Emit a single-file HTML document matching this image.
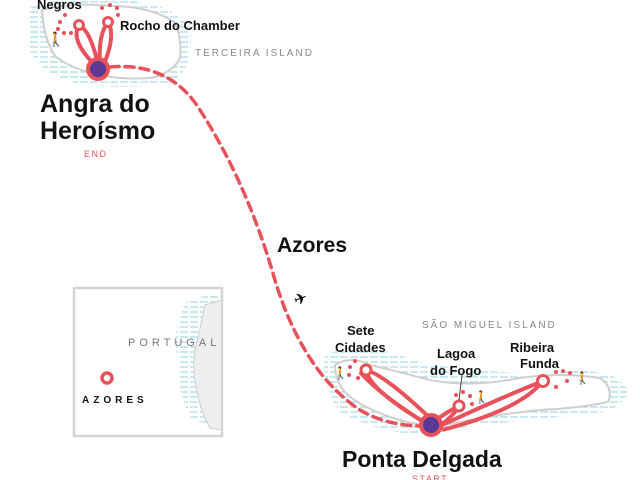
<!DOCTYPE html>
<html><head><meta charset="utf-8"><style>
html,body{margin:0;padding:0;background:#fff;}
svg{display:block;}
text{font-family:"Liberation Sans",sans-serif;}
</style></head><body>
<svg width="640" height="480" viewBox="0 0 640 480" xmlns="http://www.w3.org/2000/svg">
<defs>
<pattern id="h" width="10" height="5" patternUnits="userSpaceOnUse">
<line x1="0" y1="2" x2="8" y2="2" stroke="#a9dde7" stroke-width="1.3"/>
</pattern>
<clipPath id="ib"><rect x="75" y="289" width="146" height="146"/></clipPath>
</defs>
<!-- Terceira water -->
<path d="M28 8 Q60 -4 110 0 Q175 0 190 30 Q195 65 172 84 Q120 90 80 84 Q36 74 28 45 Z" fill="url(#h)"/>
<path d="M42 10 Q70 2 110 6 Q150 6 174 22 Q182 35 180 58 Q172 74 150 78 Q120 80 95 74 Q70 68 55 56 Q44 40 42 10 Z" fill="#fff" stroke="#cfcfcf" stroke-width="2"/>
<!-- Sao Miguel water -->
<path d="M325 355 Q360 340 420 362 Q480 375 560 372 Q615 366 628 390 Q625 410 590 414 Q520 420 460 428 Q400 445 340 412 Q320 385 325 355 Z" fill="url(#h)"/>
<path d="M335 365 Q350 355 370 365 Q400 372 430 380 Q470 388 520 378 Q560 372 600 378 Q614 388 608 402 Q580 408 540 410 Q500 414 470 420 Q430 430 400 420 Q360 408 345 392 Q335 380 335 365 Z" fill="#fff" stroke="#cfcfcf" stroke-width="2"/>
<!-- dashed route -->
<path d="M110 67 Q170 62 200 110 Q245 180 272 270 Q300 370 360 410 Q385 425 420 426" fill="none" stroke="#e8525a" stroke-width="3.5" stroke-dasharray="9 6" stroke-linecap="round"/>
<!-- Terceira loops -->
<g fill="none" stroke="#e8525a" stroke-width="4">
<path d="M94 64 Q70 40 79 25 Q90 30 98 64"/>
<path d="M100 64 Q98 35 108 22 Q116 35 104 64"/>
</g>
<g fill="#e8525a">
<circle cx="60" cy="22" r="2"/><circle cx="65" cy="15" r="2"/><circle cx="58" cy="29" r="2"/><circle cx="64" cy="33" r="2"/><circle cx="71" cy="33" r="2"/>
<circle cx="102" cy="8" r="2"/><circle cx="110" cy="5" r="2"/><circle cx="117" cy="8" r="2"/><circle cx="118" cy="15" r="2"/>
</g>
<circle cx="79" cy="25" r="4.5" fill="#fff" stroke="#e8525a" stroke-width="3"/>
<circle cx="108" cy="22" r="4.5" fill="#fff" stroke="#e8525a" stroke-width="3"/>
<circle cx="98" cy="69" r="10" fill="#5b3a96" stroke="#e8525a" stroke-width="4"/>
<text x="47" y="44" font-size="14">🚶</text>
<!-- Sao Miguel loops -->
<g fill="none" stroke="#e8525a" stroke-width="4">
<path d="M424 422 Q370 390 366 370 Q385 375 432 420"/>
<path d="M430 426 Q380 395 360 372"/>
<path d="M436 420 Q450 410 459 406 Q455 414 440 426"/>
<path d="M440 426 Q500 398 543 381 Q520 410 442 430"/>
</g>
<g fill="#e8525a">
<circle cx="350" cy="367" r="2"/><circle cx="355" cy="361" r="2"/><circle cx="349" cy="375" r="2"/><circle cx="358" cy="378" r="2"/>
<circle cx="456" cy="395" r="2"/><circle cx="463" cy="392" r="2"/><circle cx="470" cy="396" r="2"/><circle cx="472" cy="404" r="2"/>
<circle cx="556" cy="372" r="2"/><circle cx="563" cy="371" r="2"/><circle cx="570" cy="373" r="2"/><circle cx="567" cy="381" r="2"/><circle cx="556" cy="387" r="2"/>
</g>
<circle cx="366" cy="370" r="5" fill="#fff" stroke="#e8525a" stroke-width="3"/>
<circle cx="459" cy="406" r="5" fill="#fff" stroke="#e8525a" stroke-width="3"/>
<circle cx="543" cy="381" r="5.5" fill="#fff" stroke="#e8525a" stroke-width="3"/>
<circle cx="431" cy="425" r="10" fill="#5b3a96" stroke="#e8525a" stroke-width="4"/>
<line x1="462" y1="375" x2="459" y2="400" stroke="#444" stroke-width="1"/>
<g font-size="12"><text x="333" y="377">🚶</text><text x="474" y="401">🚶</text><text x="575" y="382">🚶</text></g>
<text x="294" y="304" font-size="16" transform="rotate(-20 301 299)">✈</text>
<!-- labels -->
<g font-weight="bold" fill="#111">
<text x="37" y="9" font-size="13">Negros</text>
<text x="120" y="30" font-size="13">Rocho do Chamber</text>
<text x="40" y="112" font-size="25">Angra do</text>
<text x="40" y="139" font-size="25">Heroísmo</text>
<text x="277" y="252" font-size="21">Azores</text>
<text x="347" y="335" font-size="13">Sete</text>
<text x="335" y="352" font-size="13">Cidades</text>
<text x="437" y="358" font-size="13">Lagoa</text>
<text x="430" y="375" font-size="13">do Fogo</text>
<text x="510" y="352" font-size="13">Ribeira</text>
<text x="520" y="368" font-size="13">Funda</text>
<text x="342" y="467" font-size="23">Ponta Delgada</text>
</g>
<text x="84" y="157" font-size="9" fill="#e8525a" letter-spacing="1.5">END</text>
<text x="412" y="482" font-size="9" fill="#e8525a" letter-spacing="1.5">START</text>
<text x="195" y="56" font-size="10" fill="#888" letter-spacing="2">TERCEIRA ISLAND</text>
<text x="422" y="328" font-size="10" fill="#888" letter-spacing="2">SÃO MIGUEL ISLAND</text>
<!-- inset -->
<rect x="74" y="288" width="148" height="148" fill="#fff" stroke="#d4d4d4" stroke-width="2.5"/>
<g clip-path="url(#ib)">
<path d="M188 300 Q170 330 178 360 Q176 390 192 420 L230 430 L230 290 Z" fill="url(#h)"/>
<path d="M205 305 L222 300 L222 430 L210 428 Q200 412 196 385 Q192 370 195 350 Q200 330 205 305 Z" fill="#eeeeee" stroke="#cfcfcf" stroke-width="1"/>
</g>
<text x="128" y="346" font-size="11" fill="#777" letter-spacing="4">PORTUGAL</text>
<circle cx="107" cy="378" r="5" fill="#fff" stroke="#e8525a" stroke-width="3.5"/>
<text x="82" y="403" font-size="10" font-weight="bold" fill="#111" letter-spacing="4">AZORES</text>
</svg>
</body></html>
